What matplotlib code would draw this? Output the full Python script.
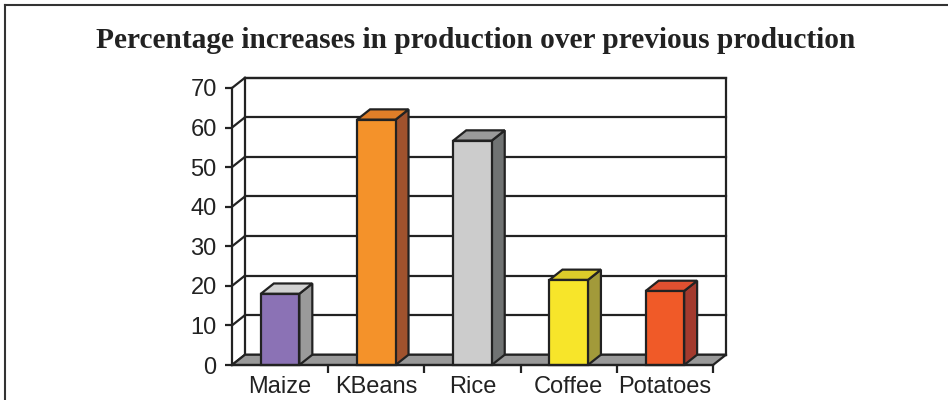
import matplotlib
matplotlib.use("Agg")
import matplotlib.pyplot as plt
from matplotlib.patches import Polygon, Rectangle
from matplotlib.lines import Line2D

# data
categories = ["Maize", "KBeans", "Rice", "Coffee", "Potatoes"]
values = [18, 62, 56.7, 21.5, 18.7]
front_colors = ["#8B72B5", "#F4922A", "#CCCCCC", "#F7E52A", "#F05A28"]
side_colors = ["#9A9A9A", "#A0522D", "#707373", "#A29A3A", "#A33A2E"]
top_colors = ["#D2D2D2", "#E07E28", "#9A9A9A", "#DCCB2A", "#E05030"]
yticks = list(range(0, 71, 10))

title = "Percentage increases in production over previous production"

# depth offset of the fake 3d look (data units)
dx, dy = 0.135, 2.6
bar_w = 0.4
edge = "#222222"
lw = 1.6

fig = plt.figure(figsize=(9.48, 4.0), dpi=100)
ax = fig.add_axes([232 / 948, 35 / 400, 481 / 948, 277 / 400])
ax.set_xlim(-0.5, len(categories) - 0.5)
ax.set_ylim(0, 70)

x0, x1 = -0.5, len(categories) - 0.5

# back wall
ax.add_patch(Rectangle((x0 + dx, dy), x1 - x0, 70, facecolor="white",
                       edgecolor=edge, lw=lw, clip_on=False, zorder=1))
for v in yticks:
    # back wall gridline
    ax.add_line(Line2D([x0 + dx, x1 + dx], [v + dy, v + dy], color=edge,
                       lw=lw, clip_on=False, zorder=2))
    # left wall diagonal
    ax.add_line(Line2D([x0, x0 + dx], [v, v + dy], color=edge,
                       lw=lw, clip_on=False, zorder=2))

# floor
ax.add_patch(Polygon([(x0, 0), (x1, 0), (x1 + dx, dy), (x0 + dx, dy)],
                     closed=True, facecolor="#999999", edgecolor=edge,
                     lw=lw, clip_on=False, zorder=3))

# bars
for i, v in enumerate(values):
    a, b = i - bar_w / 2, i + bar_w / 2
    ax.add_patch(Polygon([(b, 0), (b + dx, dy), (b + dx, v + dy), (b, v)],
                         closed=True, facecolor=side_colors[i], edgecolor=edge,
                         lw=lw, clip_on=False, zorder=4))
    ax.add_patch(Polygon([(a, v), (b, v), (b + dx, v + dy), (a + dx, v + dy)],
                         closed=True, facecolor=top_colors[i], edgecolor=edge,
                         lw=lw, clip_on=False, zorder=4))
    ax.add_patch(Rectangle((a, 0), bar_w, v, facecolor=front_colors[i],
                           edgecolor=edge, lw=lw, clip_on=False, zorder=5))

# axes styling
for s in ["top", "right"]:
    ax.spines[s].set_visible(False)
for s in ["left", "bottom"]:
    ax.spines[s].set_color(edge)
    ax.spines[s].set_linewidth(lw)
    ax.spines[s].set_zorder(6)
ax.patch.set_visible(False)

ax.set_yticks(yticks)
ax.tick_params(axis="y", direction="out", length=5, width=lw, color=edge,
               labelsize=17, labelcolor="#222222", pad=6)
ax.set_xticks(range(len(categories)))
ax.set_xticklabels(categories)
ax.set_xticks([i + 0.5 for i in range(len(categories))], minor=True)
ax.tick_params(axis="x", which="major", length=0, labelsize=17,
               labelcolor="#222222", pad=8)
ax.tick_params(axis="x", which="minor", direction="out", length=6,
               width=lw, color=edge)
for t in ax.get_yticklabels() + ax.get_xticklabels():
    t.set_fontfamily("Liberation Sans")

fig.text(0.502, 0.9, title, ha="center", va="center", fontsize=21.2,
         fontweight="bold", family="Liberation Serif", color="#222222")

# frame around the figure (left and top only visible)
fig.add_artist(Line2D([5 / 948, 5 / 948], [0, 1 - 4.5 / 400], color="#333333",
                      lw=1.5, transform=fig.transFigure))
fig.add_artist(Line2D([5 / 948, 1], [1 - 4.5 / 400, 1 - 4.5 / 400],
                      color="#333333", lw=1.5, transform=fig.transFigure))

fig.savefig("out.png", dpi=100)
